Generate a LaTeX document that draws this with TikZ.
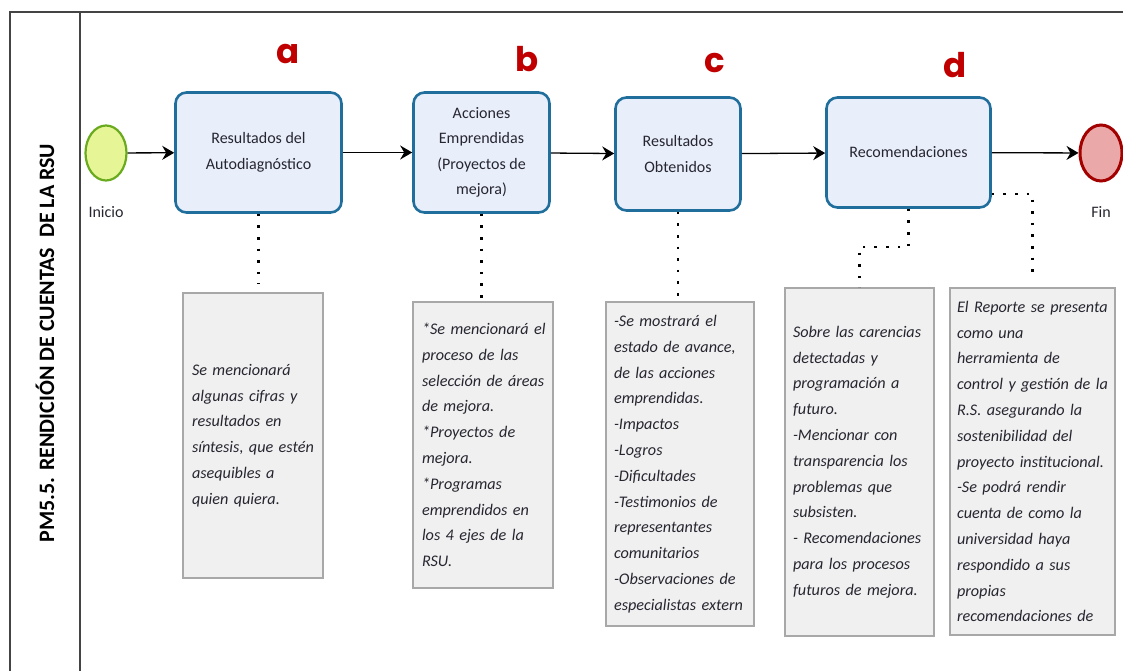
\documentclass[tikz,border=0pt]{standalone}
\usepackage{fontspec}
\setmainfont{Carlito}
\newfontfamily\labfont{Poppins}
\usetikzlibrary{arrows.meta,shapes.geometric}
\definecolor{taskfill}{HTML}{E9EEFB}
\definecolor{taskline}{HTML}{1F6E9C}
\definecolor{notefill}{HTML}{F0F0F0}
\definecolor{noteline}{HTML}{A8A8A8}
\definecolor{startfill}{HTML}{E6F595}
\definecolor{startline}{HTML}{6AAA1E}
\definecolor{endfill}{HTML}{EBA8A8}
\definecolor{endline}{HTML}{A30000}
\definecolor{labred}{HTML}{C00000}
\definecolor{framecol}{HTML}{444444}
\definecolor{txt}{HTML}{262630}
\newcommand\nl[1]{\mbox{#1}\\}
\newcommand\nlast[1]{\mbox{#1}}
\begin{document}
\begin{tikzpicture}[x=1pt,y=-1pt,
  frame/.style={draw=framecol,line width=1.5pt},
  task/.style={draw=taskline,fill=taskfill,line width=2.6pt,rounded corners=11pt,
    align=center,text=txt,font=\fontsize{16}{25.5}\selectfont},
  note/.style={draw=noteline,fill=notefill,line width=1.2pt,align=left,
    inner xsep=9pt,text=txt,font=\itshape\fontsize{16.2}{25.8}\selectfont},
  flow/.style={line width=1.3pt,-{Stealth[length=12pt,width=14pt,inset=4pt]}},
  dots/.style={line width=2.6pt,dash pattern=on 2.6pt off 9pt},
  lab/.style={text=labred,font=\labfont\bfseries\fontsize{34}{38}\selectfont},
  evlab/.style={text=txt,font=\fontsize{16}{19}\selectfont}]
\useasboundingbox (0,0) rectangle (1123,671);
\draw[frame] (1123,12) -- (10,12) -- (10,671);
\draw[frame] (80,12) -- (80,671);
\node[rotate=90,font=\bfseries\fontsize{22}{26}\selectfont,text=black] (title) at (45,343) {PM5.5. RENDICIÓN DE CUENTAS\ \ DE LA RSU};

\node[ellipse,draw=startline,fill=startfill,line width=2.2pt,minimum width=41pt,minimum height=55pt,inner sep=0pt] (start) at (106,153) {};
\node[evlab] (inicio) at (106,212) {Inicio};
\node[ellipse,draw=endline,fill=endfill,line width=3pt,minimum width=42pt,minimum height=56pt,inner sep=0pt] (end) at (1101,153) {};
\node[evlab] (fin) at (1101,212) {Fin};

\node[task,minimum width=166pt,minimum height=120pt] (ta) at (258.5,152.5) {Resultados del\\Autodiagnóstico};
\node[task,minimum width=136pt,minimum height=120pt] (tb) at (481.5,152.5) {Acciones\\Emprendidas\\(Proyectos de\\mejora)};
\node[task,minimum width=125pt,minimum height=113pt] (tc) at (678,154) {Resultados\\Obtenidos};
\node[task,minimum width=164pt,minimum height=110pt] (td) at (908.5,152.5) {Recomendaciones};

\node[lab] (la) at (288,54) {a};
\node[lab] (lb) at (527,59) {b};
\node[lab] (lc) at (715,63) {c};
\node[lab] (ld) at (955,65) {d};

\draw[flow] (start) -- (ta);
\draw[flow] (ta) -- (tb);
\draw[flow] (tb) -- (tc);
\draw[flow] (tc) -- (td);
\draw[flow] (td) -- (end);

\node[note,minimum width=140pt,minimum height=285pt,text width=122pt] (na) at (253,435.5)
 {\nl{Se mencionará}\nl{algunas cifras y}\nl{resultados en}\nl{síntesis, que estén}\nl{asequibles a}\nlast{quien quiera.}};
\node[note,minimum width=140pt,minimum height=286pt,text width=122pt,inner xsep=8pt] (nb) at (483,445)
 {\nl{*Se mencionará el}\nl{proceso de las}\nl{selección de áreas}\nl{de mejora.}\nl{*Proyectos de}\nl{mejora.}\nl{*Programas}\nl{emprendidos en}\nl{los 4 ejes de la}\nlast{RSU.}};
\node[note,minimum width=148pt,minimum height=324pt,text width=132pt,inner xsep=8pt] (nc) at (680,464)
 {\nl{-Se mostrará el}\nl{estado de avance,}\nl{de las acciones}\nl{emprendidas.}\nl{-Impactos}\nl{-Logros}\nl{-Dificultades}\nl{-Testimonios de}\nl{representantes}\nl{comunitarios}\nl{-Observaciones de}\nlast{especialistas extern}};
\node[note,minimum width=149pt,minimum height=348pt,text width=133pt,inner xsep=8pt] (nd1) at (859.5,462)
 {\nl{Sobre las carencias}\nl{detectadas y}\nl{programación a}\nl{futuro.}\nl{-Mencionar con}\nl{transparencia los}\nl{problemas que}\nl{subsisten.}\nl{- Recomendaciones}\nl{para los procesos}\nlast{futuros de mejora.}};
\node[note,minimum width=165pt,minimum height=347pt,text width=151pt,inner xsep=7pt] (nd2) at (1032.5,461.5)
 {\nl{El Reporte se presenta}\nl{como una}\nl{herramienta de}\nl{control y gestión de la}\nl{R.S. asegurando la}\nl{sostenibilidad del}\nl{proyecto institucional.}\nl{-Se podrá rendir}\nl{cuenta de como la}\nl{universidad haya}\nl{respondido a sus}\nl{propias}\nlast{recomendaciones de}};

\draw[dots] (ta.south) -- ([yshift=8pt]ta.south |- na.north);
\draw[dots] (tb.south) -- (tb.south |- nb.north);
\draw[dots] (tc.south) -- (tc.south |- nc.north);
\draw[dots] (td.south) -- ++(0,38) -| (nd1.north);
\draw[dots] ([yshift=15pt]td.south east) -| ([yshift=8pt]nd2.north);
\end{tikzpicture}
\end{document}
